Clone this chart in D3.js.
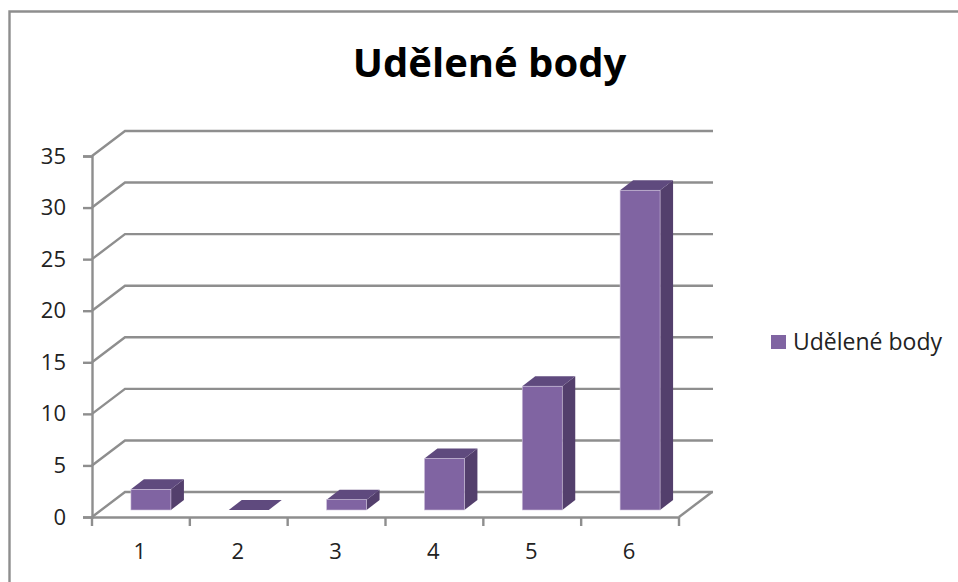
<!DOCTYPE html>
<html>
<head>
<meta charset="utf-8">
<script src="https://cdn.jsdelivr.net/npm/d3@7"></script>
<style>
body { margin: 0; background: #fff; }
text { font-family: "Open Sans", sans-serif; fill: #222; }
</style>
</head>
<body>
<div id="chart"></div>
<script>
var categories = ['1', '2', '3', '4', '5', '6'];
var values = [2, 0, 1, 5, 12, 31];
var yTicks = [0, 5, 10, 15, 20, 25, 30, 35];
var seriesName = 'Udělené body';

var w = 958, h = 582;
var axisColor = '#8e8e8e';
var lineW = 2.4;

var svg = d3.select('#chart').append('svg')
  .attr('width', w)
  .attr('height', h)
  .style('display', 'block');

// outer frame, only top and left are visible in the crop
svg.append('path')
  .attr('d', 'M9.5,582V11.5H958')
  .attr('fill', 'none')
  .attr('stroke', axisColor)
  .attr('stroke-width', lineW);

svg.append('text')
  .attr('x', 489.5)
  .attr('y', 77)
  .attr('text-anchor', 'middle')
  .style('font-size', '40px')
  .style('font-weight', 700)
  .style('fill', '#000')
  .text(seriesName);

// Scales
var x = d3.scaleBand().domain(categories).range([92, 679]);
var y = d3.scaleLinear().domain([0, 35]).range([517, 156]);

// floor and wall depth
var depthX = 33, depthY = -25;
// bar placement inside the depth
var barShiftY = -7, barDepthX = 13, barDepthY = -10;
var barW = 40;

// wall gridlines with the slanted bit on the side wall
svg.append('g').selectAll('path')
  .data(yTicks)
  .enter().append('path')
  .attr('d', function(d) {
    return 'M' + x.range()[0] + ',' + y(d) +
      'L' + (x.range()[0] + depthX) + ',' + (y(d) + depthY) + 'H713';
  })
  .attr('fill', 'none')
  .attr('stroke', axisColor)
  .attr('stroke-width', lineW);

// right edge of the floor
svg.append('line')
  .attr('x1', x.range()[1]).attr('y1', y(0))
  .attr('x2', x.range()[1] + depthX).attr('y2', y(0) + depthY)
  .attr('stroke', axisColor)
  .attr('stroke-width', lineW);

// Axes
var yAxis = svg.append('g')
  .attr('transform', 'translate(' + x.range()[0] + ',0)')
  .call(d3.axisLeft(y).tickValues(yTicks).tickSize(9).tickPadding(17));

var xAxis = svg.append('g')
  .attr('transform', 'translate(0,' + y(0) + ')')
  .call(d3.axisBottom(x).tickSize(0).tickPadding(26));

// excel puts the x ticks between categories
xAxis.selectAll('.sep')
  .data(d3.range(categories.length + 1))
  .enter().append('line')
  .attr('class', 'sep')
  .attr('x1', function(d) { return x.range()[0] + d * x.step(); })
  .attr('x2', function(d) { return x.range()[0] + d * x.step(); })
  .attr('y1', 0)
  .attr('y2', 9);

svg.selectAll('.domain, .tick line, .sep')
  .attr('stroke', axisColor)
  .attr('stroke-width', lineW);
svg.selectAll('.tick text')
  .style('font-size', '22px')
  .attr('font-family', null)
  .style('fill', '#222');
xAxis.selectAll('.tick text').attr('dx', -1);

// Bars, one group per category
var bars = svg.selectAll('.bar')
  .data(values)
  .enter().append('g')
  .attr('class', 'bar')
  .attr('transform', function(d, i) {
    var left = x(categories[i]) + (x.step() - barW) / 2 + 10;
    return 'translate(' + left + ',' + barShiftY + ')';
  });

// side
bars.append('path')
  .attr('fill', '#533f6c')
  .attr('d', function(d) {
    return 'M' + barW + ',' + y(0) + 'l' + barDepthX + ',' + barDepthY +
      'V' + (y(d) + barDepthY) + 'l' + (-barDepthX) + ',' + (-barDepthY) + 'Z';
  });
// top
bars.append('path')
  .attr('fill', '#5f4a7e')
  .attr('d', function(d) {
    return 'M0,' + y(d) + 'l' + barDepthX + ',' + barDepthY + 'h' + barW +
      'l' + (-barDepthX) + ',' + (-barDepthY) + 'Z';
  });
// front
bars.append('rect')
  .attr('fill', '#8064a2')
  .attr('stroke', '#cfc4dc')
  .attr('stroke-width', 0.6)
  .attr('x', 0)
  .attr('y', function(d) { return y(d); })
  .attr('width', barW)
  .attr('height', function(d) { return y(0) - y(d); });

// Legend
svg.append('rect')
  .attr('x', 771)
  .attr('y', 335)
  .attr('width', 15)
  .attr('height', 14)
  .attr('fill', '#8064a2');

svg.append('text')
  .attr('x', 793)
  .attr('y', 350)
  .style('font-size', '23px')
  .text(seriesName);
</script>
</body>
</html>
